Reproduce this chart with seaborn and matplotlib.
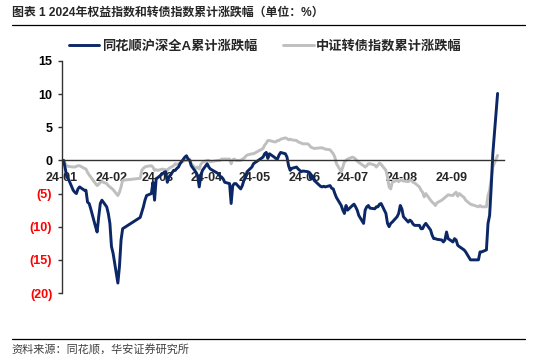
import pandas as pd
import matplotlib.pyplot as plt
import matplotlib.dates as mdates
from matplotlib.lines import Line2D
import seaborn as sns

# trading days per month (2024) and cumulative % change
days_jan = [2, 3, 4, 5, 8, 9, 10, 11, 12, 15, 16, 17, 18, 19, 22, 23, 24, 25, 26, 29, 30, 31]
days_feb = [1, 2, 5, 6, 7, 8, 19, 20, 21, 22, 23, 26, 27, 28, 29]
days_mar = [1, 4, 5, 6, 7, 8, 11, 12, 13, 14, 15, 18, 19, 20, 21, 22, 25, 26, 27, 28, 29]
days_apr = [1, 2, 3, 8, 9, 10, 11, 12, 15, 16, 17, 18, 19, 22, 23, 24, 25, 26, 29, 30]
days_may = [6, 7, 8, 9, 10, 13, 14, 15, 16, 17, 20, 21, 22, 23, 24, 27, 28, 29, 30, 31]
days_jun = [3, 4, 5, 6, 7, 11, 12, 13, 14, 17, 18, 19, 20, 21, 24, 25, 26, 27, 28]
days_jul = [1, 2, 3, 4, 5, 8, 9, 10, 11, 12, 15, 16, 17, 18, 19, 22, 23, 24, 25, 26, 29, 30, 31]
days_aug = [1, 2, 5, 6, 7, 8, 9, 12, 13, 14, 15, 16, 19, 20, 21, 22, 23, 26, 27, 28, 29, 30]
days_sep = [2, 3, 4, 5, 6, 9, 10, 11, 12, 13, 18, 19, 20, 23, 24, 25, 26, 27, 30]

equity_jan = [0, -1.2, -2.5, -2.8, -4.5, -4.8, -5.0, -4.3, -4.0, -4.5, -4.5, -6.3, -6.5, -7.3,
              -10.0, -10.8, -8.5, -6.5, -6.0, -7.0, -8.0, -9.5]
equity_feb = [-13.0, -14.0, -18.5, -16.0, -12.0, -10.3, -8.6, -7.8, -7.0, -6.0, -5.3, -5.0, -3.3, -6.0, -2.8]
equity_mar = [-2.6, -2.0, -1.8, -1.7, -3.3, -2.5, -1.5, -1.5, -1.2, -1.0, -0.5, 0.5, 0.7, 0.2, 0.0,
              -0.8, -1.8, -2.3, -4.0, -2.3, -1.5]
equity_apr = [-0.5, -1.0, -1.3, -2.0, -2.4, -2.5, -2.8, -3.3, -3.5, -6.5, -3.8, -3.5, -3.5, -4.3,
              -3.8, -3.0, -2.5, -1.7, -1.0, -0.5]
equity_may = [0.5, 1.0, 1.2, 0.3, 1.0, 0.5, 0.3, 0.2, 0.8, 1.2, 1.0, 0.5, -0.8, -1.5, -1.2, -1.0,
              -1.3, -1.5, -1.7, -1.6]
equity_jun = [-1.7, -1.8, -2.8, -2.3, -3.0, -3.9, -4.0, -3.9, -4.0, -3.8, -4.2, -4.3, -5.0, -5.6,
              -6.8, -7.5, -8.0, -6.8, -7.5]
equity_jul = [-6.8, -6.6, -7.0, -7.5, -8.3, -9.5, -7.5, -7.0, -6.8, -7.2, -7.3, -7.0, -7.0, -6.6,
              -6.5, -8.0, -9.5, -10.0, -9.5, -9.3, -8.5, -8.0, -6.8]
equity_aug = [-7.3, -8.5, -9.3, -9.0, -9.2, -9.6, -9.8, -9.8, -10.3, -10.3, -9.8, -9.5, -10.5, -11.3,
              -11.8, -11.8, -11.9, -12.0, -12.3, -12.0, -10.8, -11.8]
equity_sep = [-12.3, -11.8, -12.0, -12.8, -13.0, -13.5, -13.8, -14.2, -14.6, -15.0, -15.0, -13.8,
              -13.8, -13.5, -9.5, -8.3, -4.0, 1.0, 10.1]

cb_jan = [0, -0.5, -0.8, -0.9, -1.0, -1.0, -0.9, -0.8, -0.8, -1.2, -1.3, -1.8, -2.2, -2.5, -3.5,
          -3.8, -3.6, -3.3, -3.2, -3.5, -3.8, -4.0]
cb_feb = [-4.2, -4.4, -5.3, -4.8, -4.0, -3.0, -2.7, -1.5, -1.2, -1.0, -0.9, -0.8, -1.0, -1.5, -1.4]
cb_mar = [-1.5, -1.3, -1.4, -1.4, -1.5, -1.2, -0.8, -0.5, -0.6, -0.5, -0.4, 0.0, 0.0, 0.2, 0.2,
          -0.5, -1.2, -1.0, -1.3, -0.6, -0.3]
cb_apr = [0.0, 0.0, -0.2, 0.0, 0.0, 0.2, 0.2, 0.2, 0.2, -0.5, 0.1, 0.2, 0.0, 0.0, 0.2, 0.3, 0.6,
          0.8, 1.0, 1.0]
cb_may = [1.8, 2.3, 2.6, 3.0, 3.0, 2.8, 2.8, 3.0, 3.0, 3.2, 3.4, 3.3, 3.1, 3.2, 3.1, 3.0, 2.8, 2.7,
          2.6, 2.5]
cb_jun = [2.5, 2.3, 2.0, 1.9, 1.8, 1.9, 1.9, 1.8, 1.7, 1.6, 1.3, 1.0, 0.5, -0.5, -1.7, -1.0, -0.2,
          0.0, 0.2]
cb_jul = [0.5, 0.4, 0.2, -0.1, -0.3, -0.8, -1.0, -0.8, -0.5, -0.5, -0.7, -1.0, -0.7, -0.4, -0.6,
          -1.5, -2.5, -4.0, -4.3, -3.3, -3.0, -3.2, -3.0]
cb_aug = [-3.0, -3.1, -3.2, -3.0, -3.0, -3.3, -3.4, -4.0, -4.5, -4.8, -5.5, -5.0, -6.0, -6.3, -6.5,
          -6.8, -6.4, -6.0, -5.8, -5.6, -5.4, -5.2]
cb_sep = [-5.3, -5.0, -4.8, -5.4, -5.0, -5.6, -6.0, -6.2, -6.4, -6.6, -7.0, -6.8, -7.0, -7.0, -5.3,
          -4.5, -2.8, -1.0, 0.75]

series_names = ["同花顺沪深全A累计涨跌幅", "中证转债指数累计涨跌幅"]
y_ticks = [15, 10, 5, 0, -5, -10, -15, -20]

months = [days_jan, days_feb, days_mar, days_apr, days_may, days_jun, days_jul, days_aug, days_sep]
dates = []
for m, days in enumerate(months, start=1):
    dates += [pd.Timestamp(2024, m, d) for d in days]
equity = (equity_jan + equity_feb + equity_mar + equity_apr + equity_may + equity_jun
          + equity_jul + equity_aug + equity_sep)
cb = cb_jan + cb_feb + cb_mar + cb_apr + cb_may + cb_jun + cb_jul + cb_aug + cb_sep

df = pd.DataFrame({"date": dates, "equity": equity, "cb": cb})

sns.set_style("white")
plt.rcParams["font.family"] = ["Liberation Sans", "Noto Sans CJK SC", "DejaVu Sans"]

fig = plt.figure(figsize=(5.37, 3.62), dpi=100)
ax = fig.add_axes([0.1155, 0.1906, 0.823, 0.641])

sns.lineplot(data=df, x="date", y="equity", ax=ax, color="#0B2766", linewidth=2.1,
             label=series_names[0])
sns.lineplot(data=df, x="date", y="cb", ax=ax, color="#BFBFBF", linewidth=2.1,
             label=series_names[1])
ax.lines[1].set_zorder(1)
ax.lines[0].set_zorder(2)

ax.set_xlim(pd.Timestamp(2024, 1, 1), pd.Timestamp(2024, 10, 4))
ax.set_ylim(-20, 15)
ax.set_xlabel("")
ax.set_ylabel("")

ax.spines["top"].set_visible(False)
ax.spines["right"].set_visible(False)
ax.spines["bottom"].set_position(("data", 0))
ax.spines["bottom"].set_color("#333333")
ax.spines["bottom"].set_linewidth(1.0)
ax.spines["left"].set_color("#333333")
ax.spines["left"].set_linewidth(1.0)

ax.xaxis.set_major_locator(mdates.MonthLocator(bymonth=range(1, 10)))
ax.xaxis.set_major_formatter(mdates.DateFormatter("%y-%m"))
ax.tick_params(axis="x", direction="in", length=4, width=1, color="#333333", pad=8,
               labelsize=9)
for lab in ax.get_xticklabels():
    lab.set_fontweight("bold")

ax.set_yticks(y_ticks)
ax.set_yticklabels([str(v) if v >= 0 else f"({-v})" for v in y_ticks],
                   fontsize=9, fontweight="bold")
ax.tick_params(axis="y", direction="out", length=3, width=1, color="#333333", pad=4, left=True)
for v, lab in zip(y_ticks, ax.get_yticklabels()):
    lab.set_color("#FF0000" if v < 0 else "black")

leg = ax.legend(loc="center", bbox_to_anchor=(0.46, 1.062), ncol=2, frameon=False,
                handlelength=2.3, columnspacing=2.0, handletextpad=0.2,
                prop={"size": 9.5, "weight": "bold"})

fig.text(0.022, 0.965, "图表 1 2024年权益指数和转债指数累计涨跌幅（单位：%）",
         fontsize=8.6, fontweight="bold", va="center", ha="left")
fig.add_artist(Line2D([0.022, 0.978], [0.931, 0.931], color="black", linewidth=0.9))
fig.add_artist(Line2D([0.022, 0.978], [0.064, 0.064], color="black", linewidth=0.9))
fig.text(0.022, 0.033, "资料来源：同花顺，华安证券研究所", fontsize=8, color="#404040",
         va="center", ha="left")

fig.savefig("out.png", dpi=100)
